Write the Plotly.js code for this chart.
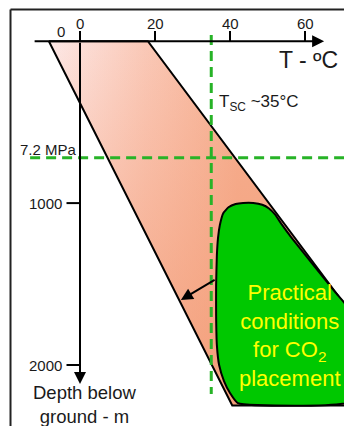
<!DOCTYPE html>
<html>
<head>
<meta charset="utf-8">
<script src="https://cdn.plot.ly/plotly-3.0.1.min.js"></script>
<style>html,body{margin:0;padding:0;background:#fff;}#chart{width:344px;height:426px;}</style>
</head>
<body>
<div id="chart"></div>
<script>
// ---- data (temperature in °C, depth below ground in m) ----
const tempTicks = [0, 20, 40, 60];
const tempTickLabels = ['0', '20', '40', '60'];
const depthTicks = [1000, 2000];
const depthTickLabels = ['1000', '2000'];
// geothermal band (surface temperature range and gradients)
const bandT = [-8.3, 18.1, 90.7, 40.6, -8.3];
const bandD = [0, 0, 2250, 2250, 0];
// practical CO2 placement region outline
const co2T = [37.3, 38.2, 39.6, 41.5, 43.5, 46.2, 48.6, 50.4, 52.0, 53.6, 56.5, 68.0, 72.5, 72.5, 42.1, 40.0, 38.4, 37.1, 36.5, 36.3, 36.3, 36.5, 36.8, 37.3];
const co2D = [1135, 1062, 1026, 1006, 999, 999, 1010, 1033, 1070, 1125, 1216, 1549, 1679, 2222, 2235, 2173, 2099, 2000, 1877, 1691, 1506, 1321, 1216, 1135];
const tscTemp = 35;        // supercritical temperature
const pcDepth = 720;       // depth of 7.2 MPa
const axisTempMin = -12.5, axisTempMax = 65.1;
const axisDepthMax = 2117;

const FONT = 'Liberation Sans, Arial, sans-serif';
const TXT = '#1a1a1a';
const DGREEN = '#27b327';

const traces = [];
// band base with horizontal gradient
traces.push({
  x: bandT, y: bandD, mode: 'lines', fill: 'toself', hoverinfo: 'skip',
  line: {color: 'rgba(0,0,0,0)', width: 0},
  fillcolor: '#f8c0a8',
  fillgradient: {type: 'horizontal', start: -8, stop: 42,
    colorscale: [[0, '#fde8e6'], [0.5, '#fac9b8'], [1, '#f6b092']]}
});
// vertical overlay for diagonal look
traces.push({
  x: bandT, y: bandD, mode: 'lines', fill: 'toself', hoverinfo: 'skip',
  line: {color: '#000', width: 2},
  fillcolor: 'rgba(0,0,0,0)',
  fillgradient: {type: 'vertical', start: 0, stop: 2250,
    colorscale: [[0, 'rgba(243,152,112,0)'], [1, 'rgba(243,152,112,0.75)']]}
});
// dashed T_sc line
traces.push({x: [tscTemp, tscTemp], y: [-38, 2179], mode: 'lines', hoverinfo: 'skip',
  line: {color: DGREEN, width: 3, dash: '10px,6px'}});
// dashed 7.2 MPa line
traces.push({x: [-13.3, 75], y: [pcDepth, pcDepth], mode: 'lines', hoverinfo: 'skip',
  line: {color: DGREEN, width: 3, dash: '10px,6px'}});
// CO2 region
traces.push({x: co2T, y: co2D, mode: 'lines', fill: 'toself', hoverinfo: 'skip',
  fillcolor: '#00c800', line: {color: '#000', width: 2, shape: 'spline', smoothing: 0.4}});
// temperature ticks
tempTicks.forEach(t => traces.push({x: [t, t], y: [0, -63], mode: 'lines', hoverinfo: 'skip',
  line: {color: '#000', width: 2}}));
// depth ticks
depthTicks.forEach(d => traces.push({x: [-3.6, 0], y: [d, d], mode: 'lines', hoverinfo: 'skip',
  line: {color: '#000', width: 2}}));

const ann = [];
// axes with arrows
ann.push({x: axisTempMax, y: 0, ax: axisTempMin, ay: 0, xref: 'x', yref: 'y', axref: 'x', ayref: 'y',
  showarrow: true, arrowhead: 2, arrowsize: 1.2, arrowwidth: 2, arrowcolor: '#000', text: ''});
ann.push({x: 0, y: axisDepthMax, ax: 0, ay: 0, xref: 'x', yref: 'y', axref: 'x', ayref: 'y',
  showarrow: true, arrowhead: 2, arrowsize: 1.2, arrowwidth: 2, arrowcolor: '#000', text: ''});
// arrow from CO2 region
ann.push({x: 26.9, y: 1599, ax: 36.3, ay: 1469, xref: 'x', yref: 'y', axref: 'x', ayref: 'y',
  showarrow: true, arrowhead: 2, arrowsize: 1.2, arrowwidth: 2, arrowcolor: '#000', text: ''});
// tick labels
tempTicks.forEach((t, i) => ann.push({x: t, y: -112, xref: 'x', yref: 'y', text: tempTickLabels[i],
  showarrow: false, xanchor: 'center', yanchor: 'middle', font: {family: FONT, size: 15, color: TXT}}));
ann.push({x: -5.1, y: -57, xref: 'x', yref: 'y', text: '0', showarrow: false, xanchor: 'center', yanchor: 'middle',
  font: {family: FONT, size: 15, color: TXT}});
depthTicks.forEach((d, i) => ann.push({x: -4.2, y: d, xref: 'x', yref: 'y', text: depthTickLabels[i],
  showarrow: false, xanchor: 'right', yanchor: 'middle', font: {family: FONT, size: 15, color: TXT}}));
// labels
ann.push({x: 60.8, y: 116, xref: 'x', yref: 'y', text: 'T - ºC', showarrow: false, xanchor: 'center', yanchor: 'middle',
  font: {family: FONT, size: 23, color: TXT}});
ann.push({x: 36.6, y: 382, xref: 'x', yref: 'y', text: 'T<sub>SC</sub> ~35°C', showarrow: false, xanchor: 'left', yanchor: 'middle',
  font: {family: FONT, size: 17, color: TXT}});
ann.push({x: -0.2, y: 668, xref: 'x', yref: 'y', text: '7.2 MPa', showarrow: false, xanchor: 'right', yanchor: 'middle',
  font: {family: FONT, size: 15, color: TXT}});
ann.push({x: 1.3, y: 2247, xref: 'x', yref: 'y', text: 'Depth below<br>ground - m', showarrow: false, xanchor: 'center', yanchor: 'middle',
  font: {family: FONT, size: 18.5, color: TXT}});
ann.push({x: 56, y: 1818, xref: 'x', yref: 'y', text: 'Practical<br>conditions<br>for CO<sub>2</sub><br>placement', showarrow: false,
  xanchor: 'center', yanchor: 'middle', font: {family: FONT, size: 22, color: '#ffff00'}});

const layout = {
  width: 344, height: 426, margin: {l: 0, r: 0, t: 0, b: 0},
  paper_bgcolor: '#fff', plot_bgcolor: '#fff', showlegend: false,
  xaxis: {range: [-21.333, 70.4], visible: false, fixedrange: true},
  yaxis: {range: [2376.8, -254.5], visible: false, fixedrange: true},
  annotations: ann,
  shapes: [
    {type: 'line', xref: 'x', yref: 'y', x0: -18.53, x1: -18.53, y0: -195.8, y1: 2500, line: {color: '#222', width: 2}},
    {type: 'line', xref: 'x', yref: 'y', x0: -18.53, x1: 80, y0: -195.8, y1: -195.8, line: {color: '#222', width: 2}}
  ]
};
Plotly.newPlot('chart', traces, layout, {staticPlot: true, displayModeBar: false});
</script>
</body>
</html>
